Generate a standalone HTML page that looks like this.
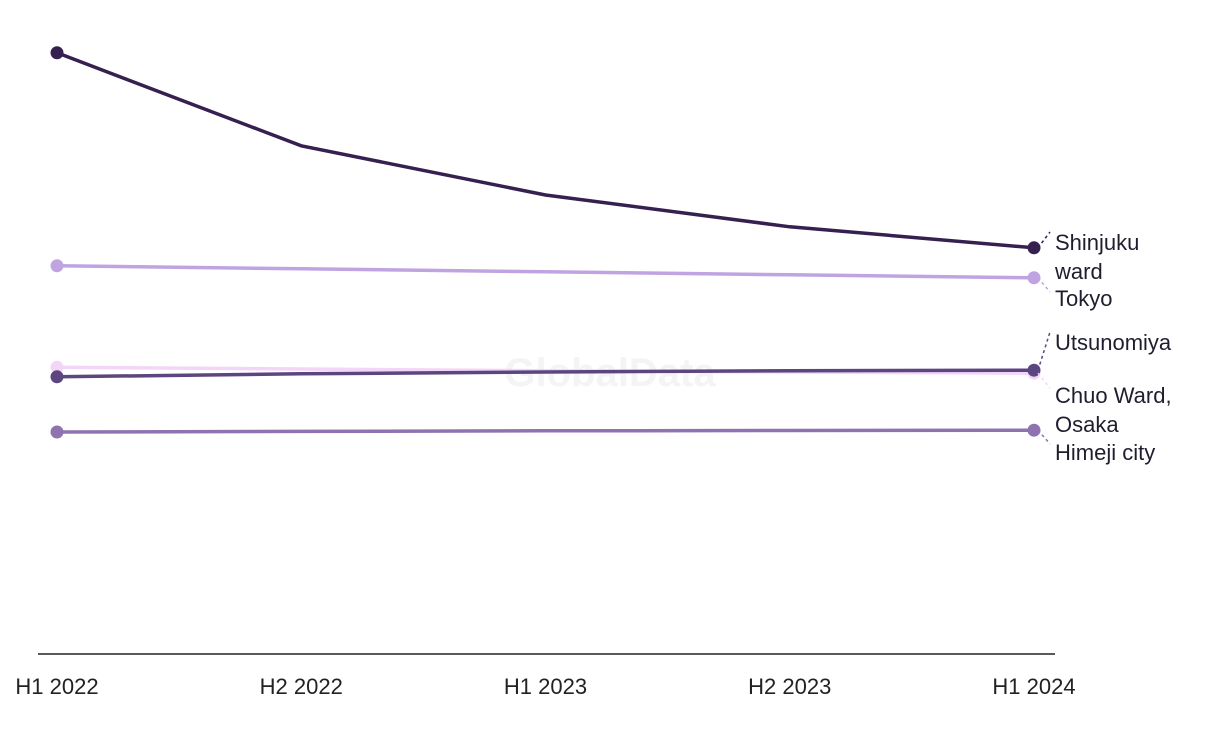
<!DOCTYPE html>
<html><head><meta charset="utf-8"><style>
body{margin:0;background:#fff;}
svg text{font-family:"Liberation Sans",sans-serif;}
</style></head><body>
<svg id="chart" width="1220" height="744" viewBox="0 0 1220 744" xmlns="http://www.w3.org/2000/svg">
<text x="610" y="386" text-anchor="middle" font-size="40" font-weight="bold" fill="#f4f4f4">GlobalData</text>
<line x1="38" y1="654" x2="1055" y2="654" stroke="#222" stroke-width="1.5"/>
<g id="ticks"></g>
<g id="series"></g>
<g id="labels"></g>
</svg>
<script>
const categories = ["H1 2022","H2 2022","H1 2023","H2 2023","H1 2024"];
const seriesNames = ["Tokyo","Chuo Ward, Osaka","Utsunomiya","Himeji city","Shinjuku ward"];
const shinjuku = [100.2, 84.7, 76.5, 71.2, 67.7];
const tokyo = [64.7, 64.2, 63.7, 63.2, 62.7];
const chuo = [47.8, 47.5, 47.2, 47.0, 46.8];
const utsunomiya = [46.2, 46.7, 47.0, 47.2, 47.3];
const himeji = [37.0, 37.1, 37.2, 37.25, 37.3];

const NS="http://www.w3.org/2000/svg";
function xs(i){return 57 + i*(1034-57)/(categories.length-1);}
function ys(v){return 654 - v*6;}
function mk(t,a,p){const e=document.createElementNS(NS,t);for(const k in a)e.setAttribute(k,a[k]);p.appendChild(e);return e;}

const tg=document.getElementById('ticks');
categories.forEach((c,i)=>{
  const t=mk('text',{x:xs(i),y:694,'text-anchor':'middle','font-size':22,fill:'#222'},tg);
  
  
  t.textContent=c;
});

const sg=document.getElementById('series');
const defs=[
  {d:tokyo,c:'#c0a4e2',n:'tokyo'},
  {d:chuo,c:'#f3d6f7',n:'chuo-ward-osaka'},
  {d:himeji,c:'#8e73b0',n:'himeji-city'},
  {d:utsunomiya,c:'#5c4680',n:'utsunomiya'},
  {d:shinjuku,c:'#35204f',n:'shinjuku-ward'}
];
defs.forEach(s=>{
  const g=mk('g',{},sg);
  
  
  const p=mk('polyline',{points:s.d.map((v,i)=>xs(i)+','+ys(v)).join(' '),fill:'none',stroke:s.c,'stroke-width':3.5},g);
  
  
  [0,s.d.length-1].forEach(i=>{
    const c=mk('circle',{cx:xs(i),cy:ys(s.d[i]),r:6.5,fill:s.c},g);
    
    
  });
});

const lg=document.getElementById('labels');
const lab=[
  {d:shinjuku,c:'#35204f',lines:['Shinjuku','ward'],y:250,ly:232,n:'shinjuku-ward'},
  {d:tokyo,c:'#c0a4e2',lines:['Tokyo'],y:306,ly:292,n:'tokyo'},
  {d:utsunomiya,c:'#5c4680',lines:['Utsunomiya'],y:350,ly:332,n:'utsunomiya'},
  {d:chuo,c:'#f3d6f7',lines:['Chuo Ward,','Osaka'],y:403,ly:388,n:'chuo-ward-osaka'},
  {d:himeji,c:'#8e73b0',lines:['Himeji city'],y:460,ly:444,n:'himeji-city'}
];
lab.forEach(l=>{
  const last=l.d.length-1;
  const ln=mk('line',{x1:xs(last)+4,y1:ys(l.d[last]),x2:1050,y2:l.ly,stroke:l.c,'stroke-width':1.5,'stroke-dasharray':'3,3'},lg);
  
  
  const t=mk('text',{x:1055,y:l.y,'font-size':22,fill:'#1e1e2e'},lg);
  
  
  l.lines.forEach((s,j)=>{const ts=mk('tspan',{x:1055,dy:j?29:0},t);ts.textContent=s;});
});
</script>
</body></html>
